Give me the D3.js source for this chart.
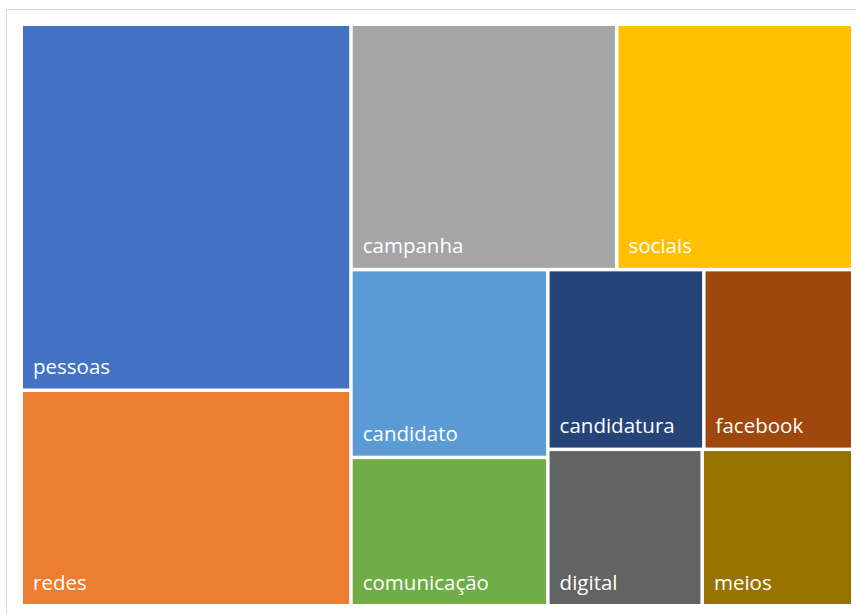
<!DOCTYPE html>
<html>
<head>
<meta charset="utf-8">
<script src="https://cdn.jsdelivr.net/npm/d3@7"></script>
<style>
  html, body { margin: 0; padding: 0; background: #fff; }
  svg { display: block; }
</style>
</head>
<body>
<svg id="chart" width="856" height="614"></svg>
<script>
const categories = ["pessoas", "redes", "campanha", "sociais", "candidato", "comunicação", "candidatura", "facebook", "digital", "meios"];
const values = [124, 73, 67, 59.5, 38, 30, 28.8, 27.5, 24.8, 24.2];
const colors = ["#4472C4", "#ED7D31", "#A5A5A5", "#FFC000", "#5B9BD5", "#70AD47", "#264478", "#9E480E", "#636363", "#997300"];

const svg = d3.select("#chart");

// chart frame
svg.append("rect")
  .attr("x", 6.5).attr("y", 9.5)
  .attr("width", 870).attr("height", 630)
  .attr("fill", "#fff")
  .attr("stroke", "#d9d9d9")
  .attr("stroke-width", 1);

const data = {
  name: "root",
  children: categories.map((c, i) => ({ name: c, value: values[i], color: colors[i] }))
};

const root = d3.hierarchy(data)
  .sum(d => d.value || 0)
  .sort((a, b) => b.value - a.value);

d3.treemap()
  .tile(d3.treemapSquarify.ratio(1))
  .size([828, 578])
  .paddingInner(3.5)
  (root);

const leaves = root.leaves();

const g = svg.append("g").attr("transform", "translate(23,26)");

g.selectAll("rect.cell")
  .data(leaves)
  .join("rect")
  .attr("class", "cell")
  .attr("x", d => d.x0)
  .attr("y", d => d.y0)
  .attr("width", d => d.x1 - d.x0)
  .attr("height", d => d.y1 - d.y0)
  .attr("fill", d => d.data.color);

g.selectAll("text.label")
  .data(leaves)
  .join("text")
  .attr("class", "label")
  .attr("x", d => d.x0 + 10)
  .attr("y", d => d.y1 - 14.5)
  .attr("fill", "#fff")
  .attr("font-family", "'Open Sans', sans-serif")
  .attr("font-size", 20.5)
  .text(d => d.data.name);
</script>
</body>
</html>
